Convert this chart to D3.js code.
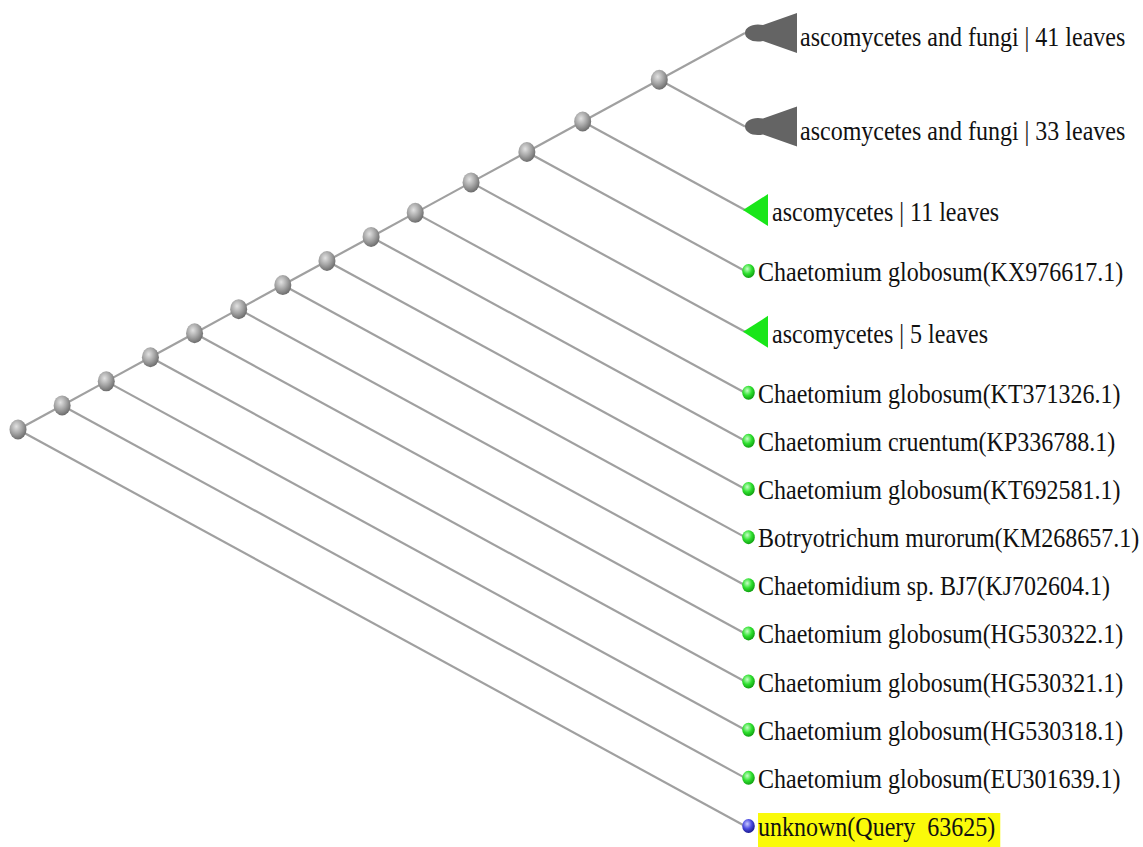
<!DOCTYPE html>
<html>
<head>
<meta charset="utf-8">
<script src="https://cdn.jsdelivr.net/npm/d3@7"></script>
<style>
  html, body { margin: 0; padding: 0; background: #ffffff; }
  svg { display: block; }
  .lbl { font-family: "Liberation Serif", "Times New Roman", serif; font-size: 24px; fill: #111; }
</style>
</head>
<body>
<svg id="tree" width="1143" height="847"></svg>
<script>
// Leaves of the tree, listed from top to bottom
const leafNames = [
  "ascomycetes and fungi",
  "ascomycetes and fungi",
  "ascomycetes",
  "Chaetomium globosum(KX976617.1)",
  "ascomycetes",
  "Chaetomium globosum(KT371326.1)",
  "Chaetomium cruentum(KP336788.1)",
  "Chaetomium globosum(KT692581.1)",
  "Botryotrichum murorum(KM268657.1)",
  "Chaetomidium sp. BJ7(KJ702604.1)",
  "Chaetomium globosum(HG530322.1)",
  "Chaetomium globosum(HG530321.1)",
  "Chaetomium globosum(HG530318.1)",
  "Chaetomium globosum(EU301639.1)",
  "unknown(Query\u200263625)"
];
// Number of sequences behind each leaf (collapsed subtrees have more than one)
const leafCounts = [41, 33, 11, 1, 5, 1, 1, 1, 1, 1, 1, 1, 1, 1, 1];
// Taxonomic group of each leaf
const leafGroups = [
  "ascomycetes and fungi", "ascomycetes and fungi",
  "ascomycetes", "ascomycetes", "ascomycetes", "ascomycetes", "ascomycetes",
  "ascomycetes", "ascomycetes", "ascomycetes", "ascomycetes", "ascomycetes",
  "ascomycetes", "ascomycetes", "query"
];

const svg = d3.select("#tree");

const groupColor = d3.scaleOrdinal()
  .domain(["ascomycetes and fungi", "ascomycetes", "query"])
  .range(["#646464", "#19e619", "#3a3acc"]);

// ---- tree structure: each new leaf joins the clade built so far (ladder tree)
const leaves = leafNames.map((name, i) => ({
  name, count: leafCounts[i], group: leafGroups[i], index: i
}));
let clade = { children: [leaves[0], leaves[1]] };
for (let i = 2; i < leaves.length; i++) clade = { children: [clade, leaves[i]] };
const root = d3.hierarchy(clade);

// ---- vertical placement: each leaf row gets room for its glyph
const sizeKind = c => (c > 20 ? "big" : c > 1 ? "small" : "single");
const halfRow = { big: 47, small: 37, single: 24.2 };
const rowCenters = [];
let acc = 0;
leaves.forEach((d, i) => {
  if (i > 0) acc += halfRow[sizeKind(leaves[i - 1].count)] + halfRow[sizeKind(d.count)];
  rowCenters.push(acc);
});
const y = d3.scaleLinear().domain([0, acc]).range([33, 826]);

root.leaves().forEach(n => { n.y0 = y(rowCenters[n.data.index]); });
root.eachAfter(n => {
  if (n.children) {
    const ys = n.leaves().map(l => l.y0);
    n.lo = d3.min(ys); n.hi = d3.max(ys);
    n.y0 = (n.lo + n.hi) / 2;
    n.half = (n.hi - n.lo) / 2;
  } else { n.half = 0; }
});

// horizontal placement: slanted cladogram, depth set by the vertical span of each clade
const x = d3.scaleLinear().domain([0, root.half]).range([745, 18]);
root.each(n => { n.x0 = x(n.half); });

// ---- gradients
const defs = svg.append("defs");
function sphere(id, light, mid, dark) {
  const g = defs.append("radialGradient").attr("id", id)
    .attr("cx", "40%").attr("cy", "35%").attr("r", "65%");
  g.append("stop").attr("offset", "0%").attr("stop-color", light);
  g.append("stop").attr("offset", "55%").attr("stop-color", mid);
  g.append("stop").attr("offset", "100%").attr("stop-color", dark);
}
sphere("gNode", "#e2e2e2", "#a4a4a4", "#6e6e6e");
sphere("gGreen", "#c8ffc8", "#2fe02f", "#11a011");
sphere("gBlue", "#c8c8ff", "#4a4ae0", "#1a1a90");

// ---- branches
svg.append("g")
  .selectAll("line")
  .data(root.links())
  .join("line")
  .attr("x1", d => d.source.x0).attr("y1", d => d.source.y0)
  .attr("x2", d => d.target.x0).attr("y2", d => d.target.y0)
  .attr("stroke", "#a0a0a0")
  .attr("stroke-width", 2.2);

// ---- internal nodes
svg.append("g")
  .selectAll("ellipse")
  .data(root.descendants().filter(n => n.children))
  .join("ellipse")
  .attr("cx", d => d.x0).attr("cy", d => d.y0)
  .attr("rx", 8.5).attr("ry", 10)
  .attr("fill", "url(#gNode)");

// ---- leaves
const leafG = svg.append("g")
  .selectAll("g")
  .data(root.leaves())
  .join("g")
  .attr("transform", d => `translate(${d.x0},${d.y0})`);

leafG.each(function (d) {
  const g = d3.select(this);
  const kind = sizeKind(d.data.count);
  const col = groupColor(d.data.group);
  let labelX, base;
  if (kind === "big") {
    // collapsed clade: wedge with a rounded tip
    g.append("path")
      .attr("d", "M52,-20 L52,20 L18,8 C8,10 0,6 0,0 C0,-6 8,-10 18,-8 Z")
      .attr("fill", col);
    labelX = 55; base = 13;
  } else if (kind === "small") {
    g.append("path").attr("d", "M-2,0 L23,-16 L23,16 Z").attr("fill", col);
    labelX = 27; base = 11;
  } else {
    g.append("ellipse").attr("cx", 3.5).attr("cy", 0).attr("rx", 6.3).attr("ry", 7)
      .attr("fill", d.data.group === "query" ? "url(#gBlue)" : "url(#gGreen)");
    labelX = 13; base = 10;
  }
  const label = d.data.count > 1
    ? `${d.data.name} | ${d.data.count} leaves`
    : d.data.name;
  const t = g.append("text")
    .attr("class", "lbl")
    .attr("transform", `translate(${labelX},${base}) scale(1,1.15)`)
    .text(label);
  if (d.data.group === "query") {
    const w = t.node().getComputedTextLength();
    g.insert("rect", "text")
      .attr("x", labelX).attr("y", -13)
      .attr("width", w + 5).attr("height", 34)
      .attr("fill", "#fafa0a");
  }
});
</script>
</body>
</html>
